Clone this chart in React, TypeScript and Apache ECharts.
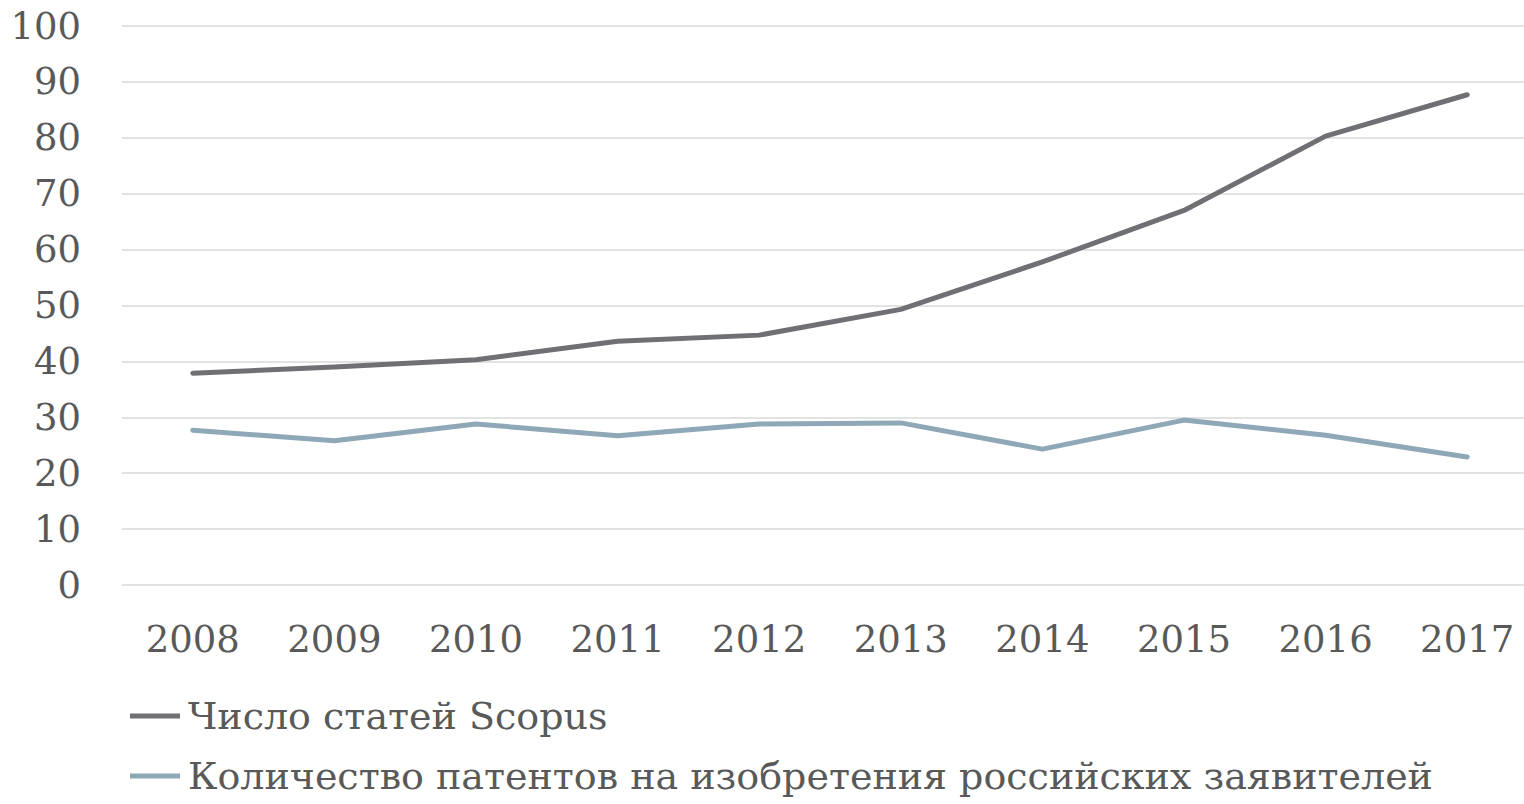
import React, { useEffect, useRef } from "react";
import * as echarts from "echarts";

const years = ["2008", "2009", "2010", "2011", "2012", "2013", "2014", "2015", "2016", "2017"];
const scopus = [37.9, 39.0, 40.3, 43.6, 44.7, 49.3, 57.8, 67.0, 80.3, 87.7];
const patents = [27.7, 25.8, 28.8, 26.7, 28.8, 29.0, 24.3, 29.5, 26.8, 22.9];
const seriesNames = ["Число статей Scopus", "Количество патентов на изобретения российских заявителей"];

const FONT = "DejaVu Serif";
const TEXT = "#595959";

export default function App() {
  const ref = useRef<HTMLDivElement>(null);
  useEffect(() => {
    if (!ref.current) return;
    const chart = echarts.init(ref.current, null, { renderer: "svg" });
    const legendBase = {
      orient: "horizontal",
      left: 130,
      padding: 0,
      itemWidth: 50,
      itemHeight: 5,
      icon: "rect",
      textStyle: { color: TEXT, fontFamily: FONT, fontSize: 38, lineHeight: 44, padding: [0, 0, 0, 3] },
    };
    chart.setOption({
      animation: false,
      backgroundColor: "#ffffff",
      grid: { left: 122, top: 26, width: 1416, height: 559, containLabel: false, outerBoundsMode: "none" },
      xAxis: {
        type: "category",
        data: years,
        boundaryGap: true,
        axisLine: { show: false },
        axisTick: { show: false },
        axisLabel: { color: TEXT, fontFamily: FONT, fontSize: 37, margin: 36 },
        splitLine: { show: false },
      },
      yAxis: {
        type: "value",
        min: 0,
        max: 100,
        interval: 10,
        axisLine: { show: false },
        axisTick: { show: false },
        axisLabel: { color: TEXT, fontFamily: FONT, fontSize: 37, margin: 41 },
        splitLine: { lineStyle: { color: "#d9d9d9", width: 1.5 } },
      },
      legend: [
        { ...legendBase, top: 694, data: [seriesNames[0]] },
        { ...legendBase, top: 754, data: [seriesNames[1]] },
      ],
      series: [
        {
          name: seriesNames[0],
          type: "line",
          data: scopus,
          symbol: "none",
          color: "#6f6f74",
          lineStyle: { width: 5, color: "#6f6f74", cap: "round", join: "round" },
        },
        {
          name: seriesNames[1],
          type: "line",
          data: patents,
          symbol: "none",
          color: "#8fa8b8",
          lineStyle: { width: 5, color: "#8fa8b8", cap: "round", join: "round" },
        },
      ],
    });
    return () => chart.dispose();
  }, []);
  return (
    <div
      ref={ref}
      style={{ position: "fixed", left: 0, top: 0, width: 1524, height: 804, background: "#fff" }}
    />
  );
}
